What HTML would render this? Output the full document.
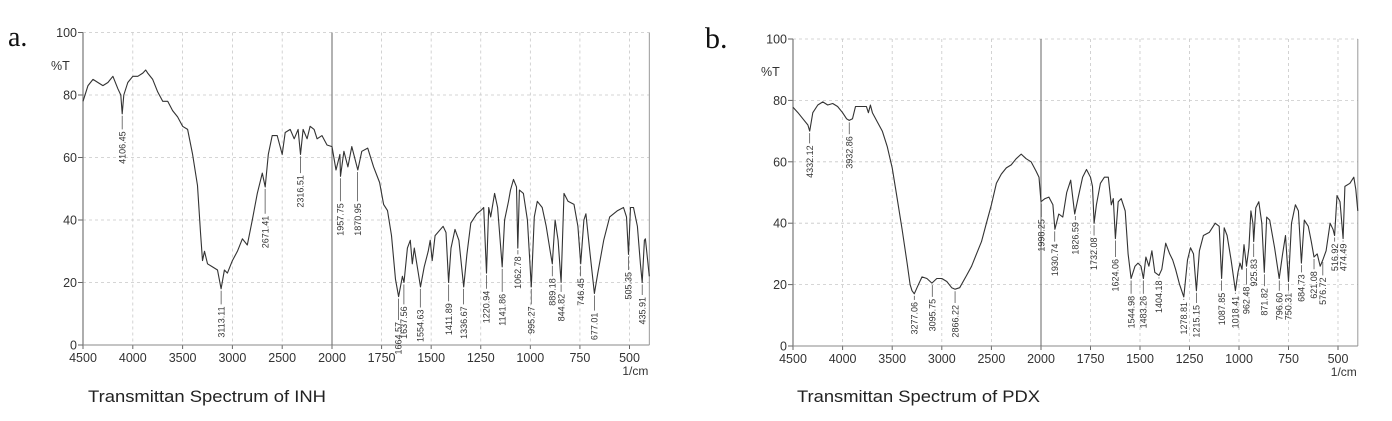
<!DOCTYPE html>
<html><head><meta charset="utf-8"><style>
html,body{margin:0;padding:0;background:#fff;}
svg{display:block;font-family:"Liberation Sans",Arial,sans-serif;}
</style></head><body>
<svg id="chart" width="1392" height="421" viewBox="0 0 1392 421" xmlns="http://www.w3.org/2000/svg">
<text x="8" y="46" font-family="Liberation Serif,serif" font-size="28" fill="#111">a.</text>
<text x="705" y="48" font-family="Liberation Serif,serif" font-size="30" fill="#111">b.</text>
<text x="88" y="402" font-size="17" fill="#222" textLength="238" lengthAdjust="spacingAndGlyphs">Transmittan Spectrum of INH</text>
<text x="797" y="402" font-size="17" fill="#222" textLength="243" lengthAdjust="spacingAndGlyphs">Transmittan Spectrum of PDX</text>
<g id="panelA"></g>
<g id="panelB"></g>
</svg>
<script>
const xTicks = [4500,4000,3500,3000,2500,2000,1750,1500,1250,1000,750,500];
const yTicks = [0,20,40,60,80,100];

const inhWavenumbers = [4500,4450,4400,4350,4300,4250,4200,4150,4120,4106,4090,4050,4000,3950,3900,3870,3850,3800,3750,3700,3650,3600,3550,3500,3450,3400,3350,3320,3300,3280,3250,3200,3150,3113,3080,3050,3000,2950,2900,2850,2800,2750,2700,2671,2640,2600,2550,2500,2470,2420,2380,2340,2316,2290,2250,2220,2180,2150,2100,2050,2000,1980,1960,1957,1940,1920,1900,1870,1850,1820,1790,1760,1740,1720,1700,1680,1664,1645,1637,1620,1605,1595,1585,1565,1554,1535,1515,1505,1495,1480,1440,1425,1412,1400,1380,1360,1336,1320,1300,1270,1250,1235,1221,1210,1200,1180,1165,1142,1130,1110,1100,1085,1070,1063,1055,1035,1015,995,980,965,940,920,900,889,875,860,845,830,810,780,760,746,730,720,700,677,660,630,600,560,530,515,505,495,480,460,445,436,425,420,400];
const inhTransmittance = [78,83,85,84,83,84,86,82,80,74,80,84,86,86,87,88,87,85,81,78,78,75,73,70,69,61,51,36,27,30,26,25,24,18,24,23,27,30,34,32,40,48.5,55,50.6,61,67,67,61,68,69,66,69,61,69,66,70,69,66,67,64,63.5,56,61,54,62,57,63.5,56,62,63,57,52,45,43,35,21,15.5,22,20,31,33.5,26,31,23,18.6,25,30,33.5,27,35,38,36,20,31,37,33.5,18.6,29,39,42,43,44,23,44,41,48.5,44,25,40,46,49.6,53,50.6,31,49.6,48.5,40,18.6,41,46,44,38,30,26,40,33.5,20,48.5,46,45,38,26,40,42,30,16.5,23,33.5,41,43,44,41,29,44,44,38,26,20,33.5,34,22];
const inhPeakWn = [4106.45,3113.11,2671.41,2316.51,1957.75,1870.95,1664.57,1637.56,1554.63,1411.89,1336.67,1220.94,1141.86,1062.78,995.27,889.18,844.82,746.45,677.01,505.35,435.91];
const inhPeakT = [74,18,50.6,61,54,56,15.5,20,18.6,20,18.6,23,25,31,18.6,26,20,26,16.5,29,20];
const inhPeakTextTop = [69,13,42,55,46,46,8,13,12,14,13,18,17,29,13,22,17,22,11,24,16];

const pdxWavenumbers = [4500,4450,4400,4350,4332,4300,4250,4200,4150,4100,4050,4000,3960,3933,3900,3870,3800,3760,3740,3720,3700,3650,3600,3550,3500,3450,3400,3350,3320,3300,3277,3250,3200,3150,3100,3050,3000,2950,2900,2866,2820,2750,2700,2650,2600,2550,2500,2450,2400,2350,2300,2250,2200,2150,2100,2050,2020,2000,1980,1960,1940,1930,1910,1890,1870,1850,1830,1810,1790,1770,1750,1740,1732,1720,1700,1680,1660,1645,1635,1624,1610,1595,1575,1560,1545,1525,1510,1495,1483,1470,1455,1440,1425,1404,1390,1370,1350,1335,1320,1300,1279,1260,1245,1230,1215,1200,1180,1150,1120,1100,1088,1075,1060,1040,1018,1005,995,985,975,962,950,940,930,926,915,900,885,872,860,845,820,797,780,765,750,735,715,700,685,670,650,635,621,605,590,577,560,540,525,517,505,490,474,465,440,420,410,400];
const pdxTransmittance = [77.8,76,74,72,70,76,78.5,79.5,78.5,79,78,76,74,73.5,74,78,78,78,76,78.5,76,73,70,65,58,48,38,27,20,18,17,19,22.5,22,20.5,22,22,21,19,18.5,19,23,26,30,34,40,46,53,56,58,59,61,62.5,61,60,57,55,47,48,48.5,46,38,43,42,50,54,43,49,55,57.5,55,52,40,46,53,55,55,46,48,35,47,48,44,30,22,26,27,26,22,29,26,31,24,23,25,33.5,30,28,25,20,16,28,32,30,18,31,36,37,40,39,22,38.5,36,28,18,24,27,25,33,26,32,44,40,34,45,47,40,24,42,41,32,22,30,36,21,40,46,44,27,41,39,34,29,30,26,28,31,40,38,36,49,47,35,52,53,55,51,44];
const pdxPeakWn = [4332.12,3932.86,3277.06,3095.75,2866.22,1998.25,1930.74,1826.59,1732.08,1624.06,1544.98,1483.26,1404.18,1278.81,1215.15,1087.85,1018.41,962.48,925.83,871.82,796.60,750.31,684.73,621.08,576.72,516.92,474.49];
const pdxPeakT = [70,73.5,17,20.5,18.5,47,38,43,40,35,22,22,23,16,18,22,18,26,34,24,22,21,27,29,28,36,35];
const pdxPeakTextTop = [66,69,15,16,14,42,34,41,36,29,17,17,22,15,14,18,17,20,29,19.5,18,18,24,25,23,34,34];

const NS = 'http://www.w3.org/2000/svg';
function mk(tag, attrs, parent){
  const e = document.createElementNS(NS, tag);
  for (const k in attrs) e.setAttribute(k, attrs[k]);
  parent.appendChild(e);
  return e;
}

function drawPanel(g, cfg, wns, ts, pWn, pT, pTop){
  const xs = wn => wn >= 2000 ? cfg.x4500 + (4500 - wn) * (cfg.x2000 - cfg.x4500) / 2500
                              : cfg.x2000 + (2000 - wn) * (cfg.x500 - cfg.x2000) / 1500;
  const ys = t => cfg.y0 - t * (cfg.y0 - cfg.y100) / 100;
  const right = xs(400);
  xTicks.forEach(v => {
    const x = xs(v);
    const gl = mk('line', {x1:x, x2:x, y1:ys(100), y2:ys(0), stroke:'#c8c8c8', 'stroke-dasharray':'3,3', 'stroke-width':0.8}, g);
    
    
    const tk = mk('line', {x1:x, x2:x, y1:ys(0), y2:ys(0)+4, stroke:'#666'}, g);
    
    
    const tl = mk('text', {x:x, y:ys(0)+17, 'font-size':12.5, 'text-anchor':'middle', fill:'#333'}, g);
    tl.textContent = v;
    
    
  });
  yTicks.forEach(v => {
    const y = ys(v);
    const gl = mk('line', {x1:cfg.x4500, x2:right, y1:y, y2:y, stroke:'#c8c8c8', 'stroke-dasharray':'3,3', 'stroke-width':0.8}, g);
    
    
    const tk = mk('line', {x1:cfg.x4500-5, x2:cfg.x4500, y1:y, y2:y, stroke:'#666'}, g);
    
    
    const tl = mk('text', {x:cfg.x4500-6, y:y+4.5, 'font-size':12.5, 'text-anchor':'end', fill:'#333'}, g);
    tl.textContent = v;
    
    
  });
  const ax = mk('line', {x1:cfg.x4500, x2:cfg.x4500, y1:ys(100), y2:ys(0), stroke:'#777', 'stroke-width':1.2}, g);
  
  
  const bx = mk('line', {x1:cfg.x4500, x2:right, y1:ys(0), y2:ys(0), stroke:'#888', 'stroke-width':1}, g);
  
  
  const rx = mk('line', {x1:right, x2:right, y1:ys(100), y2:ys(0), stroke:'#999', 'stroke-width':1}, g);
  
  
  const sx = mk('line', {x1:xs(2000), x2:xs(2000), y1:ys(100), y2:ys(0), stroke:'#666', 'stroke-width':1}, g);
  
  
  const pt = mk('text', {x:cfg.x4500-32, y:ys(100)+cfg.pctOffset, 'font-size':12.5, fill:'#333'}, g);
  pt.textContent = '%T';
  
  
  const un = mk('text', {x:right-1, y:ys(0)+30, 'font-size':12, 'text-anchor':'end', fill:'#333'}, g);
  un.textContent = '1/cm';
  
  
  let d = '';
  wns.forEach((w, i) => { d += (i ? 'L' : 'M') + xs(w).toFixed(1) + ',' + ys(ts[i]).toFixed(1); });
  const sp = mk('path', {d:d, fill:'none', stroke:'#333', 'stroke-width':1.1, 'stroke-linejoin':'round'}, g);
  
  
  pWn.forEach((w, i) => {
    const x = xs(w);
    const lbl = w.toFixed(2);
    const tTop = ys(pTop[i]);
    const ln = mk('line', {x1:x, x2:x, y1:ys(pT[i])+2, y2:tTop, stroke:'#555', 'stroke-width':0.8}, g);
    
    
    const tx = mk('text', {x:0, y:0, 'font-size':9, 'text-anchor':'end', fill:'#333', transform:'translate(' + (x+3.2) + ',' + (tTop+2) + ') rotate(-90)'}, g);
    tx.textContent = lbl;
    
    
  });
}

drawPanel(document.getElementById('panelA'), {x4500:83, x2000:332, x500:629.5, y0:345, y100:32.5, pctOffset:37.5},
  inhWavenumbers, inhTransmittance, inhPeakWn, inhPeakT, inhPeakTextTop);
drawPanel(document.getElementById('panelB'), {x4500:793, x2000:1041, x500:1338, y0:346, y100:39, pctOffset:37},
  pdxWavenumbers, pdxTransmittance, pdxPeakWn, pdxPeakT, pdxPeakTextTop);
</script>
</body></html>
